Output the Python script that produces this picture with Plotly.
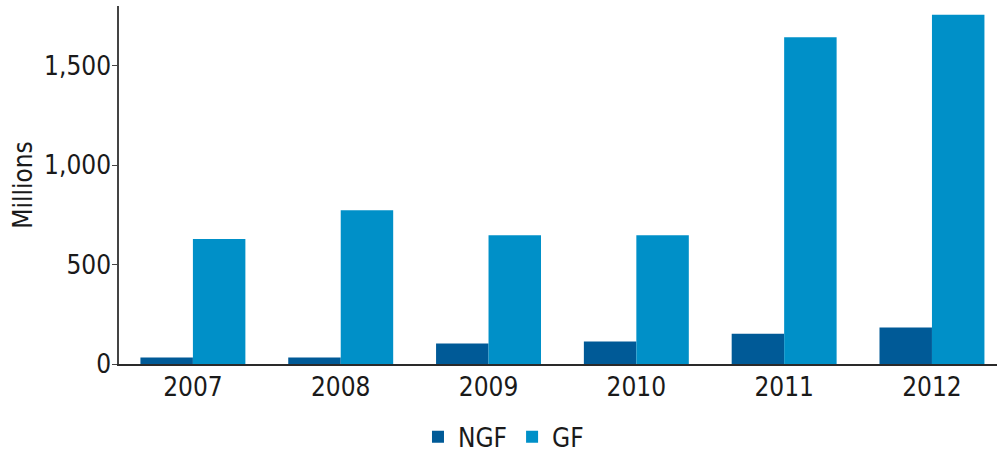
import plotly.graph_objects as go

years = ["2007", "2008", "2009", "2010", "2011", "2012"]
ngf = [33, 33, 103, 113, 152, 184]
gf = [629, 773, 647, 647, 1643, 1756]
ytick_vals = [0, 500, 1000, 1500]
ytick_text = ["0", "500", "1,000", "1,500"]

FONT = "Liberation Sans Narrow, DejaVu Sans Condensed, Arial Narrow, sans-serif"

fig = go.Figure()
fig.add_trace(go.Bar(x=years, y=ngf, name="NGF", marker=dict(color="#005a97", line=dict(width=0))))
fig.add_trace(go.Bar(x=years, y=gf, name="GF", marker=dict(color="#0090c8", line=dict(width=0))))

fig.update_layout(
    width=997, height=456,
    barmode="group", bargap=0.29, bargroupgap=0,
    plot_bgcolor="white", paper_bgcolor="white",
    margin=dict(l=119, r=0, t=6, b=92, autoexpand=False),
    font=dict(family=FONT, size=26, color="#1a1a1a"),
    showlegend=True,
    legend=dict(orientation="h", x=0.505, xanchor="center", xref="container",
                y=0.042, yanchor="middle", yref="container",
                font=dict(size=26), itemwidth=30, traceorder="normal"),
    xaxis=dict(showline=True, linecolor="#2a2a2a", linewidth=2, ticks="",
               range=[-0.5, 5.44],
               showgrid=False, tickfont=dict(size=26), ticklabelstandoff=-1,
               automargin=False),
    yaxis=dict(range=[0, 1800], tickvals=ytick_vals, ticktext=ytick_text,
               showline=True, linecolor="#444", linewidth=1.5, ticks="outside",
               ticklen=5, tickcolor="#444", showgrid=False, zeroline=False,
               tickfont=dict(size=26), automargin=False, ticklabelstandoff=-4,
               title=dict(text="Millions", font=dict(size=26), standoff=4)),
)

fig.write_html("out.html", config={"displayModeBar": False},
               post_script="document.body.style.margin='0';document.body.style.padding='0';")
